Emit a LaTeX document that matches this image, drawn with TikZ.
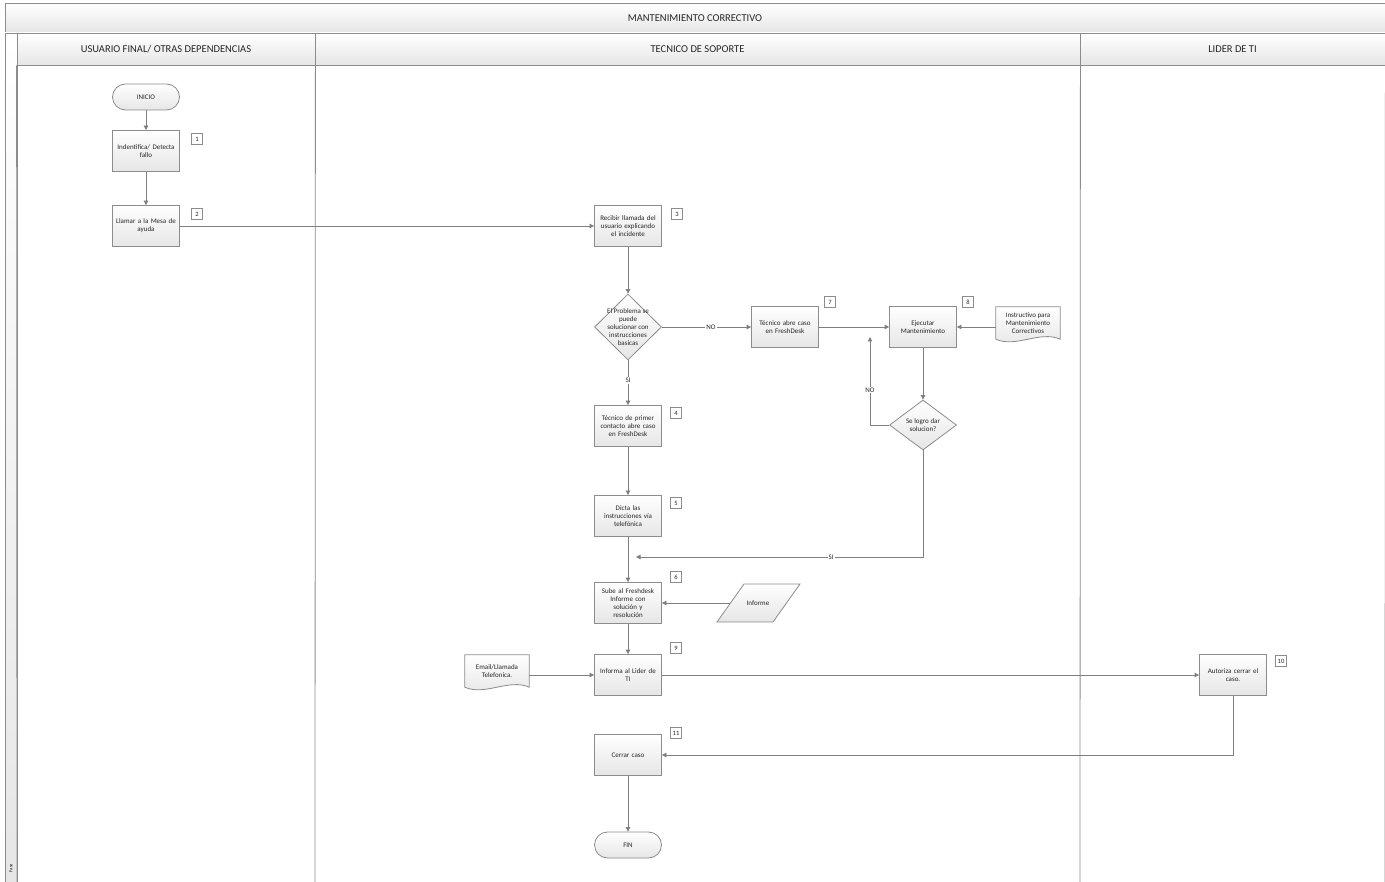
\documentclass[tikz,border=0pt]{standalone}
\usepackage{fontspec}
\setmainfont{Carlito}
\usetikzlibrary{shapes.geometric,arrows.meta,calc}
\pgfdeclarelayer{bottom}
\pgfdeclarelayer{background}
\pgfsetlayers{bottom,background,main}
\definecolor{ln}{HTML}{7F7F7F}
\definecolor{bd}{HTML}{8C8C8C}
\definecolor{fl}{HTML}{E6E6E6}
\definecolor{tx}{HTML}{262626}
\begin{document}
\begin{tikzpicture}[x=1pt,y=-1pt,
  txt/.style={font=\fontsize{7}{8}\selectfont, text=tx},
  proc/.style={draw=bd, line width=0.8pt, top color=white, bottom color=fl, minimum width=67pt, minimum height=41pt, text width=65pt, align=center, inner sep=1pt, txt},
  term/.style={draw=bd, line width=0.8pt, top color=white, bottom color=fl, minimum width=67pt, minimum height=26pt, rounded corners=13pt, align=center, inner sep=1pt, txt},
  dec/.style={draw=bd, line width=0.8pt, top color=white, bottom color=fl, diamond, inner sep=0pt},
  paran/.style={minimum width=55pt, minimum height=38pt, inner sep=1pt, txt},
  docn/.style={minimum width=64pt, minimum height=32pt, align=center, inner sep=1pt, txt},
  docshape/.style={draw=bd, line width=0.8pt, top color=white, bottom color=fl},
  tag/.style={draw=bd, line width=0.6pt, fill=white, minimum size=11pt, inner sep=0pt, font=\fontsize{6.5}{7}\selectfont, text=tx},
  band/.style={draw=bd, line width=0.8pt, top color=white, bottom color=fl, inner sep=0pt, font=\fontsize{10.5}{11}\selectfont, text=tx},
  line/.style={draw=ln, line width=0.8pt},
  arr/.style={line, -{Triangle[width=4.5pt,length=4.5pt]}},
  lbl/.style={fill=white, inner sep=1pt, txt}
]
\useasboundingbox (0,0) rectangle (1385,882);
\begin{pgfonlayer}{bottom}
\fill[white] (0,0) rectangle (1385,882);
\end{pgfonlayer}

% pool frame
\node[band, minimum width=1380pt, minimum height=30pt] (title) at (695,18) {MANTENIMIENTO CORRECTIVO};
\path[draw=bd, line width=0.8pt, top color=white, bottom color=fl] (5,33) rectangle (17,882);
\node[band, minimum width=298pt, minimum height=32pt] (lane1) at (166,49) {USUARIO FINAL/ OTRAS DEPENDENCIAS};
\node[band, minimum width=765pt, minimum height=32pt] (lane2) at (697.5,49) {TECNICO DE SOPORTE};
\node[band, minimum width=305pt, minimum height=32pt] (lane3) at (1232.5,49) {LIDER DE TI};
\draw[draw=bd, line width=0.8pt] (lane1.south west) -- (17,882);
\draw[draw=bd, line width=0.8pt] (lane1.south east) -- (315,882);
\draw[draw=bd, line width=0.8pt] (lane2.south east) -- (1080,882);
\draw[draw=bd, line width=0.8pt] (lane3.south east) -- (1385,882);
\node[rotate=90, font=\fontsize{4.5}{5}\selectfont, inner sep=0pt] (fase) at (11,868) {Fase};

% lane 1
\node[term] (inicio) at (146,97) {INICIO};
\node[proc] (n1) at (146,151) {Indentifica/ Detecta\\fallo};
\node[proc] (n2) at (146,226) {Llamar a la Mesa de\\ayuda};
\node[tag] (t1) at (197,139) {1};
\node[tag] (t2) at (197,214) {2};

% lane 2
\node[proc] (n3) at (628,226) {Recibir llamada del\\usuario explicando\\el incidente};
\node[dec, minimum width=67pt, minimum height=66pt, label={[txt, align=center]center:El Problema se\\puede\\solucionar con\\instrucciones\\basicas}] (d1) at (628,327) {};
\node[proc] (n4) at (628,426) {Técnico de primer\\contacto abre caso\\en FreshDesk};
\node[proc] (n5) at (628,516) {Dicta las\\instrucciones vía\\telefónica};
\node[proc] (n6) at (628,603) {Sube al Freshdesk\\Informe con\\solución y\\resolución};
\node[proc] (n9) at (628,675) {Informa al Lider de\\TI};
\node[proc] (n11) at (628,755) {Cerrar caso};
\node[term] (fin) at (628,845) {FIN};
\node[proc] (n7) at (785,327) {Técnico abre caso\\en FreshDesk};
\node[proc] (n8) at (923,327) {Ejecutar\\Mantenimiento};
\node[dec, minimum width=67pt, minimum height=50pt, label={[txt, align=center]center:Se logro dar\\solucion?}] (d2) at (923,425) {};
\node[paran] (inf) at (758,603) {Informe};

\node[docn] (doc1) at (1028,323) {Instructivo para\\Mantenimiento\\Correctivos};
\node[docn] (doc2) at (497,671) {Email/Llamada\\Telefonica.};
\begin{pgfonlayer}{background}
\path[docshape] (doc1.north west) -- (doc1.north east) -- (doc1.south east)
  .. controls ($(doc1.south east)+(-20,-9)$) and ($(doc1.south west)+(20,9)$) .. (doc1.south west) -- cycle;
\path[docshape] (doc2.north west) -- (doc2.north east) -- (doc2.south east)
  .. controls ($(doc2.south east)+(-20,-9)$) and ($(doc2.south west)+(20,9)$) .. (doc2.south west) -- cycle;
\path[docshape] ($(inf.center)+(-41,19)$) -- ($(inf.center)+(15,19)$) -- ($(inf.center)+(42,-19)$) -- ($(inf.center)+(-14,-19)$) -- cycle;
\end{pgfonlayer}

\node[tag] (t3) at (677,214) {3};
\node[tag] (t4) at (676,413) {4};
\node[tag] (t5) at (676,503) {5};
\node[tag] (t6) at (676,577) {6};
\node[tag] (t7) at (830,302) {7};
\node[tag] (t8) at (968,302) {8};
\node[tag] (t9) at (676,648) {9};
\node[tag] (t11) at (676,733) {11};

% lane 3
\node[proc] (n10) at (1233,675) {Autoriza cerrar el\\caso.};
\node[tag] (t10) at (1281,661) {10};

\coordinate (noend) at (870,337);
\coordinate (siend) at (636,557);

% connectors
\draw[arr] (inicio) -- (n1);
\draw[arr] (n1) -- (n2);
\draw[arr] (n2) -- (n3);
\draw[arr] (n3) -- (d1);
\draw[arr] (d1) -- node[lbl, pos=0.55]{NO} (n7);
\draw[arr] (d1) -- node[lbl, pos=0.45]{SI} (n4);
\draw[arr] (n4) -- (n5);
\draw[arr] (n5) -- (n6);
\draw[arr] (n6) -- (n9);
\draw[arr] (n9) -- (n10);
\draw[arr] (n11) -- (fin);
\draw[arr] (n7) -- (n8);
\draw[arr] (doc1.west |- n8.east) -- (n8.east);
\draw[arr] (n8) -- (d2);
\draw[arr] (d2.west) -| node[lbl, pos=0.7]{NO} (noend);
\draw[arr] (d2.south) |- node[lbl, pos=0.66]{SI} (siend);
\draw[arr] (inf.west) -- (n6.east);
\draw[arr] (doc2.east |- n9.west) -- (n9.west);
\draw[arr] (n10.south) |- (n11.east);
\end{tikzpicture}
\end{document}
